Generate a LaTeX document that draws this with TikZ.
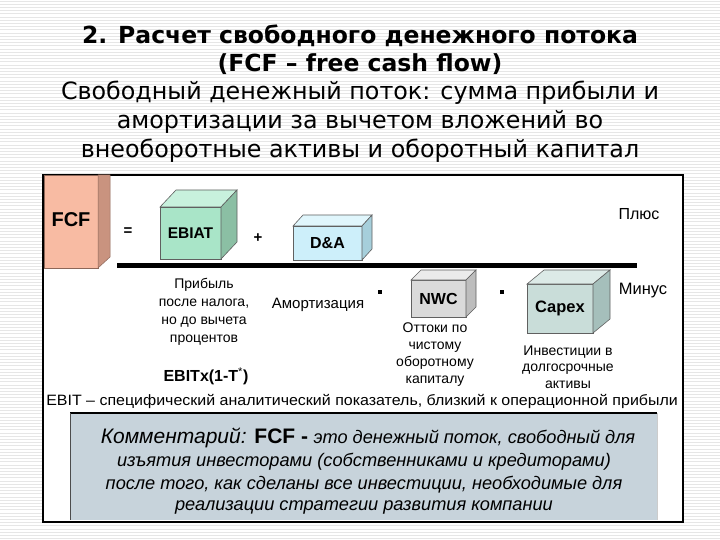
\documentclass[tikz,border=0pt]{standalone}
\usepackage{fontspec}
\setmainfont{Liberation Sans}
\newfontfamily\tfont{DejaVu Sans}
\newfontfamily\widefont[FakeStretch=1.065]{Liberation Sans}
\definecolor{stripe}{HTML}{E6E6E6}
\definecolor{fcff}{HTML}{F8BBA3}
\definecolor{fcfs}{HTML}{C9937F}
\definecolor{ebf}{HTML}{A9E5C8}
\definecolor{ebt}{HTML}{C8F1DD}
\definecolor{ebs}{HTML}{8BBFA4}
\definecolor{daf}{HTML}{CDEFFA}
\definecolor{dat}{HTML}{E0F6FC}
\definecolor{das}{HTML}{A6CFDB}
\definecolor{nwf}{HTML}{DADADA}
\definecolor{nwt}{HTML}{EBEBEB}
\definecolor{nws}{HTML}{BDBDBD}
\definecolor{cpf}{HTML}{C9DDD9}
\definecolor{cpt}{HTML}{DCEAE7}
\definecolor{cps}{HTML}{A5BFBB}
\definecolor{cbox}{HTML}{C7D3DB}
\newcommand\mycube[9]{%
  \node[cubef, fill=#8f, minimum width=#4pt, minimum height=#5pt, anchor=north west] (#1) at (#2,#3) {#9};
  \draw[cubee, fill=#8t] (#1.north west) -- ++(#6,-#7) -- ++(#4,0) -- (#1.north east) -- cycle;
  \draw[cubee, fill=#8s] (#1.north east) -- ++(#6,-#7) -- ++(0,#5) -- (#1.south east) -- cycle;
}
\begin{document}
\begin{tikzpicture}[x=1pt,y=-1pt,
  cubef/.style={draw=gray!75!black, line width=0.6pt, inner sep=0, outer sep=0},
  cubee/.style={draw=gray!75!black, line width=0.6pt},
  ttl/.style={font=\tfont\bfseries\fontsize{23.5}{26}\selectfont, inner sep=0},
  sub/.style={font=\tfont\fontsize{23.8}{26}\selectfont, inner sep=0},
  lbl/.style={font=\fontsize{14}{17}\selectfont, align=center, inner sep=0},
  cmt/.style={font=\itshape\fontsize{18.2}{20}\selectfont, inner sep=0}]
\useasboundingbox (0,0) rectangle (720,540);
\fill[white] (0,0) rectangle (720,540);
\foreach \i in {0,...,168} \draw[stripe, line width=0.8pt] (0,\i*3.2+1) -- (720,\i*3.2+1);
% title
\node[ttl] (t1) at (360,36) {2. Расчет свободного денежного потока};
\node[ttl] (t2) at (360,64) {(FCF – free cash flow)};
\node[sub] (t3) at (360,93) {Свободный денежный поток: сумма прибыли и};
\node[sub] (t4) at (360,122) {амортизации за вычетом вложений во};
\node[sub] (t5) at (360,151) {внеоборотные активы и оборотный капитал};
% frame
\node[draw, line width=2.5pt, fill=white, minimum width=640pt, minimum height=347pt, anchor=north west, inner sep=0, outer sep=0] (frame) at (43,175) {};
% FCF box
\node[fill=fcff, draw=fcfs!70!black, line width=0.5pt, minimum width=54pt, minimum height=93pt, anchor=north west, inner sep=0, outer sep=0] (fcf) at (44,175) {};
\node[font=\bfseries\fontsize{20}{22}\selectfont, inner sep=0] (fcft) at (71,220) {FCF};
\draw[fill=fcfs, draw=fcfs!70!black, line width=0.5pt] (fcf.south east) -- ++(12,-11) -- ++(0,-82) -- (fcf.north east) -- cycle;
% top row
\node[font=\bfseries\fontsize{15}{18}\selectfont, inner sep=0] (eq) at (128,232) {=};
\mycube{ebiat}{160}{207}{61}{52}{16}{17}{eb}{\bfseries\fontsize{15.5}{18}\selectfont EBIAT}
\node[font=\bfseries\fontsize{15}{18}\selectfont, inner sep=0] (plus) at (258,238) {+};
\mycube{da}{293}{226}{69}{34}{10}{11}{da}{\bfseries\fontsize{16}{18}\selectfont D\&A}
\node[font=\fontsize{16}{18}\selectfont, inner sep=0] (plu) at (639,214) {Плюс};
% thick line
\coordinate (l1) at (117,265);
\coordinate (l2) at (637,265);
\draw[line width=5pt] (l1) -- (l2);
% bottom row
\node[fill=black, minimum width=4pt, minimum height=3.5pt, inner sep=0] (m1) at (380,292) {};
\mycube{nwc}{411}{280}{55}{37}{10}{10}{nw}{\bfseries\fontsize{16}{18}\selectfont NWC}
\node[fill=black, minimum width=4pt, minimum height=3.5pt, inner sep=0] (m2) at (502,292) {};
\mycube{capex}{527}{284}{66}{49}{17}{14}{cp}{\bfseries\fontsize{16.5}{18}\selectfont Capex}
\node[font=\fontsize{16.5}{18}\selectfont, inner sep=0] (min) at (643,291) {Минус};
% labels
\node[lbl, font=\fontsize{14}{18}\selectfont] (l_eb) at (204,312) {Прибыль\\после налога,\\но до вычета\\процентов};
\node[lbl, font=\fontsize{15}{18}\selectfont] (l_da) at (318,305) {Амортизация};
\node[lbl] (l_nw) at (435,355) {Оттоки по\\чистому\\оборотному\\капиталу};
\node[lbl, font=\fontsize{14}{16.5}\selectfont] (l_cp) at (568,367) {Инвестиции в\\долгосрочные\\активы};
\node[font=\bfseries\fontsize{16}{18}\selectfont, inner sep=0] (ebitx) at (206,376) {EBITx(1-T\textsuperscript{\mdseries*})};
\node[font=\widefont\fontsize{15}{17}\selectfont, inner sep=0] (ebit) at (362,401) {EBIT – специфический аналитический показатель, близкий к операционной прибыли};
% comment box
\node[fill=cbox, minimum width=587pt, minimum height=107pt, anchor=north west, inner sep=0, outer sep=0] (cb) at (70,413) {};
\draw[line width=1.5pt] (cb.north west) -- (cb.north east);
\draw[gray!60!black, line width=0.8pt] (cb.north west) -- (cb.south west);
\draw[gray!40, line width=0.8pt] (cb.north east) -- (cb.south east);
\node[inner sep=0] (c1) at (368,438) {{\itshape\fontsize{21}{24}\selectfont Комментарий: }{\bfseries\fontsize{21}{24}\selectfont FCF -}\ \ {\itshape\fontsize{18.2}{20}\selectfont это денежный поток, свободный для}};
\node[cmt] (c2) at (364,462) {изъятия инвесторами (собственниками и кредиторами)};
\node[cmt] (c3) at (364,485) {после того, как сделаны все инвестиции, необходимые для};
\node[cmt] (c4) at (364,507) {реализации стратегии развития компании};
\end{tikzpicture}
\end{document}
